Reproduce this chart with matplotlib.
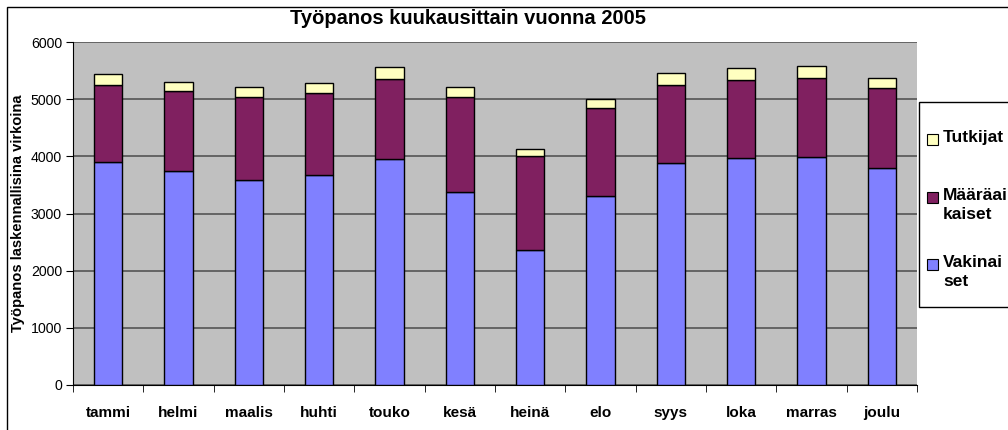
import matplotlib
matplotlib.use("Agg")
import matplotlib.pyplot as plt
import numpy as np
from matplotlib.patches import Rectangle

plt.rcParams['font.family'] = ['Liberation Sans', 'DejaVu Sans']

months = ["tammi", "helmi", "maalis", "huhti", "touko", "kesä", "heinä",
          "elo", "syys", "loka", "marras", "joulu"]
vakinaiset = [3900, 3740, 3580, 3670, 3950, 3380, 2360, 3300, 3880, 3970, 3995, 3790]
maaraaikaiset = [1340, 1397, 1457, 1443, 1403, 1657, 1646, 1539, 1362, 1365, 1375, 1400]
tutkijat = [195, 163, 170, 169, 204, 170, 117, 169, 210, 205, 210, 186]

series_labels = ["Vakinai\nset", "Määräai\nkaiset", "Tutkijat"]
colors = ["#8080FF", "#802060", "#FFFFC0"]

W, H = 1008, 430
fig = plt.figure(figsize=(W / 100, H / 100), dpi=100)

# outer chart border
fig.patches.append(Rectangle((7 / W, -0.1), 1.1, (H - 7) / H + 0.1,
                             transform=fig.transFigure, fill=False,
                             edgecolor="black", linewidth=1))

ax = fig.add_axes([73 / W, (H - 385) / H, (917 - 73) / W, (385 - 42) / H])
ax.set_facecolor("#C0C0C0")

x = np.arange(len(months))
v = np.array(vakinaiset)
m = np.array(maaraaikaiset)
t = np.array(tutkijat)
bw = 0.4
ax.bar(x, v, bw, color=colors[0], edgecolor="black", linewidth=1, zorder=3)
ax.bar(x, m, bw, bottom=v, color=colors[1], edgecolor="black", linewidth=1, zorder=3)
ax.bar(x, t, bw, bottom=v + m, color=colors[2], edgecolor="black", linewidth=1, zorder=3)

ax.set_xlim(-0.5, len(months) - 0.5)
ax.set_ylim(0, 6000)
ax.set_yticks(range(0, 6001, 1000))
ax.yaxis.grid(True, color="#555555", linewidth=1.2, zorder=1)
ax.set_axisbelow(True)

ax.set_xticks(x)
ax.set_xticklabels(months, fontsize=11, fontweight="bold")
ax.set_xticks(np.arange(-0.5, len(months), 1.0), minor=True)
ax.tick_params(axis="x", which="major", length=0, pad=15)
ax.tick_params(axis="x", which="minor", length=5, direction="out")
ax.tick_params(axis="y", length=5, direction="out", labelsize=10.2, pad=3)

for s in ["top", "right"]:
    ax.spines[s].set_visible(False)
ax.spines["left"].set_color("black")
ax.spines["bottom"].set_color("black")

ax.set_ylabel("Työpanos laskennallisina virkoina", fontsize=10.6, fontweight="bold", labelpad=4)

fig.text(468 / W, 1 - 19 / H, "Työpanos kuukausittain vuonna 2005",
         ha="center", va="center", fontsize=14.5, fontweight="bold")

# legend box (manual, extends off the canvas)
fig.patches.append(Rectangle((919 / W, 1 - 307 / H), 0.2, (307 - 102) / H,
                             transform=fig.transFigure, facecolor="white",
                             edgecolor="black", linewidth=1))
leg_y = [264, 197, 139]  # pixel y of first line for each series
for lab, col, yy in zip(series_labels, colors, leg_y):
    fig.patches.append(Rectangle((927 / W, 1 - (yy + 6) / H), 11 / W, 11 / H,
                                 transform=fig.transFigure, facecolor=col,
                                 edgecolor="black", linewidth=0.8))
    fig.text(943 / W, 1 - (yy - 9) / H, lab, ha="left", va="top",
             fontsize=12.5, fontweight="bold", linespacing=1.32)

fig.savefig("out.png", dpi=100)
